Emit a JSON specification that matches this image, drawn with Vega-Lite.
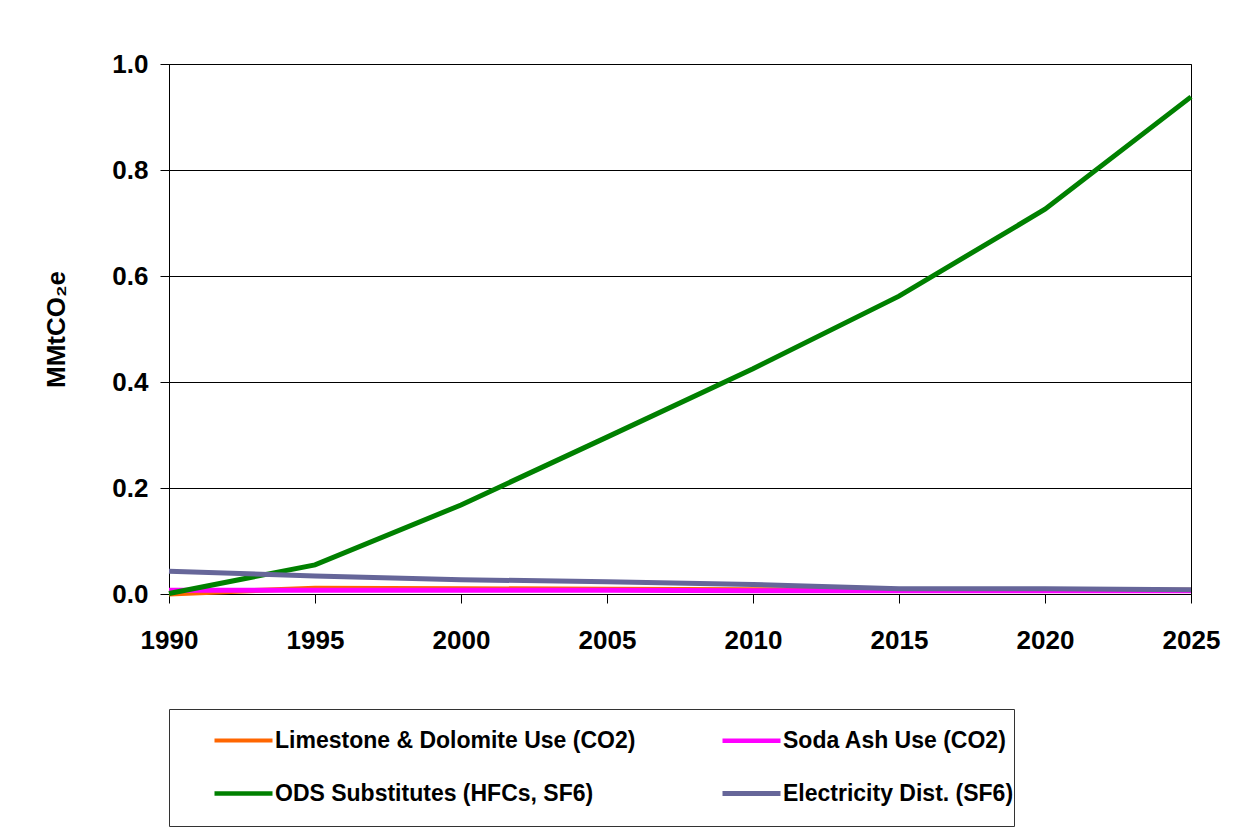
{
  "$schema": "https://vega.github.io/schema/vega-lite/v6.json",
  "width": 1022,
  "height": 530,
  "autosize": {"type": "none"},
  "padding": {"left": 169, "top": 64, "right": 57, "bottom": 242},
  "background": "white",
  "data": {
    "values": [
      {"year": 1990, "series": "Limestone & Dolomite Use (CO2)", "value": 0.0},
      {"year": 1995, "series": "Limestone & Dolomite Use (CO2)", "value": 0.011},
      {"year": 2000, "series": "Limestone & Dolomite Use (CO2)", "value": 0.010},
      {"year": 2005, "series": "Limestone & Dolomite Use (CO2)", "value": 0.009},
      {"year": 2010, "series": "Limestone & Dolomite Use (CO2)", "value": 0.008},
      {"year": 2015, "series": "Limestone & Dolomite Use (CO2)", "value": 0.007},
      {"year": 2020, "series": "Limestone & Dolomite Use (CO2)", "value": 0.007},
      {"year": 2025, "series": "Limestone & Dolomite Use (CO2)", "value": 0.007},
      {"year": 1990, "series": "Soda Ash Use (CO2)", "value": 0.007},
      {"year": 1995, "series": "Soda Ash Use (CO2)", "value": 0.007},
      {"year": 2000, "series": "Soda Ash Use (CO2)", "value": 0.007},
      {"year": 2005, "series": "Soda Ash Use (CO2)", "value": 0.007},
      {"year": 2010, "series": "Soda Ash Use (CO2)", "value": 0.006},
      {"year": 2015, "series": "Soda Ash Use (CO2)", "value": 0.006},
      {"year": 2020, "series": "Soda Ash Use (CO2)", "value": 0.006},
      {"year": 2025, "series": "Soda Ash Use (CO2)", "value": 0.006},
      {"year": 1990, "series": "ODS Substitutes (HFCs, SF6)", "value": 0.001},
      {"year": 1995, "series": "ODS Substitutes (HFCs, SF6)", "value": 0.055},
      {"year": 2000, "series": "ODS Substitutes (HFCs, SF6)", "value": 0.168},
      {"year": 2005, "series": "ODS Substitutes (HFCs, SF6)", "value": 0.296},
      {"year": 2010, "series": "ODS Substitutes (HFCs, SF6)", "value": 0.425},
      {"year": 2015, "series": "ODS Substitutes (HFCs, SF6)", "value": 0.562},
      {"year": 2020, "series": "ODS Substitutes (HFCs, SF6)", "value": 0.726},
      {"year": 2025, "series": "ODS Substitutes (HFCs, SF6)", "value": 0.938},
      {"year": 1990, "series": "Electricity Dist. (SF6)", "value": 0.043},
      {"year": 1995, "series": "Electricity Dist. (SF6)", "value": 0.034},
      {"year": 2000, "series": "Electricity Dist. (SF6)", "value": 0.027},
      {"year": 2005, "series": "Electricity Dist. (SF6)", "value": 0.023},
      {"year": 2010, "series": "Electricity Dist. (SF6)", "value": 0.018},
      {"year": 2015, "series": "Electricity Dist. (SF6)", "value": 0.010},
      {"year": 2020, "series": "Electricity Dist. (SF6)", "value": 0.010},
      {"year": 2025, "series": "Electricity Dist. (SF6)", "value": 0.008}
    ]
  },
  "mark": {"type": "line", "strokeWidth": 5, "strokeCap": "butt"},
  "encoding": {
    "x": {
      "field": "year",
      "type": "quantitative",
      "scale": {"domain": [1990, 2025], "nice": false, "zero": false},
      "axis": {
        "values": [1990, 1995, 2000, 2005, 2010, 2015, 2020, 2025],
        "format": "d",
        "title": null,
        "grid": false,
        "labelFontSize": 26,
        "labelPadding": 24,
        "tickSize": 9,
        "labelFlush": false
      }
    },
    "y": {
      "field": "value",
      "type": "quantitative",
      "scale": {"domain": [0, 1], "nice": false},
      "axis": {
        "values": [0, 0.2, 0.4, 0.6, 0.8, 1.0],
        "format": ".1f",
        "title": "MMtCO₂e",
        "titleFontSize": 26,
        "titlePadding": 42,
        "labelFontSize": 26,
        "labelPadding": 12,
        "tickSize": 9,
        "grid": true,
        "gridColor": "black",
        "gridOpacity": 1,
        "gridWidth": 1
      }
    },
    "color": {
      "field": "series",
      "type": "nominal",
      "sort": ["Limestone & Dolomite Use (CO2)", "Soda Ash Use (CO2)", "ODS Substitutes (HFCs, SF6)", "Electricity Dist. (SF6)"],
      "scale": {
        "domain": ["Limestone & Dolomite Use (CO2)", "Soda Ash Use (CO2)", "ODS Substitutes (HFCs, SF6)", "Electricity Dist. (SF6)"],
        "range": ["#FF6600", "#FF00FF", "#008000", "#666699"]
      },
      "legend": {
        "orient": "none",
        "legendX": 0,
        "legendY": 645,
        "columns": 2,
        "direction": "horizontal",
        "title": "\u2800\u00a0\u00a0\u00a0\u00a0\u00a0\u00a0\u00a0\u00a0\u00a0\u00a0\u00a0\u00a0\u00a0\u00a0\u00a0\u00a0\u00a0\u00a0\u00a0\u00a0\u00a0\u00a0\u00a0\u00a0\u00a0\u00a0\u00a0\u00a0\u00a0\u00a0\u00a0\u00a0\u00a0\u00a0\u00a0\u00a0\u00a0\u00a0\u00a0\u00a0\u00a0\u00a0\u00a0\u00a0\u00a0\u00a0\u00a0\u00a0\u00a0\u00a0\u00a0\u00a0\u00a0\u00a0\u00a0\u00a0\u00a0\u00a0\u00a0\u00a0\u00a0\u00a0\u00a0\u00a0\u00a0\u00a0\u00a0\u00a0\u00a0\u00a0\u00a0\u00a0\u00a0\u00a0\u00a0\u00a0\u00a0\u00a0\u00a0\u00a0\u00a0\u00a0\u00a0\u00a0\u00a0\u00a0\u00a0\u00a0\u00a0\u00a0\u00a0\u00a0\u00a0\u00a0\u00a0\u00a0\u00a0\u00a0\u00a0\u00a0\u00a0\u00a0\u00a0\u00a0\u00a0\u00a0\u00a0\u00a0\u00a0\u00a0\u00a0\u00a0\u00a0\u00a0\u00a0\u00a0\u00a0\u00a0\u00a0\u00a0\u00a0\u00a0\u00a0\u00a0\u00a0\u00a0\u00a0\u00a0\u00a0\u00a0\u00a0\u00a0\u00a0\u00a0\u00a0\u00a0\u00a0\u00a0\u00a0\u00a0\u00a0\u00a0\u00a0\u00a0\u00a0\u00a0\u00a0\u00a0\u00a0\u00a0\u00a0\u00a0\u00a0\u00a0\u00a0\u00a0\u00a0\u00a0\u00a0\u00a0\u00a0\u00a0\u00a0\u00a0\u00a0\u00a0\u00a0\u00a0\u00a0\u00a0\u00a0\u00a0\u00a0\u00a0\u00a0\u00a0\u00a0\u2800",
        "titleOrient": "bottom",
        "titleFontSize": 16,
        "titlePadding": 4,
        "titleLimit": 1200,
        "padding": 0,
        "strokeColor": "#333333",
        "fillColor": "white",
        "symbolType": "stroke",
        "symbolSize": 3364,
        "symbolStrokeWidth": 5,
        "symbolOffset": 43,
        "labelFontSize": 23,
        "labelFontWeight": "bold",
        "labelFont": "Liberation Sans",
        "labelColor": "black",
        "labelOffset": 0,
        "labelLimit": 500,
        "columnPadding": 41,
        "rowPadding": 9
      }
    },
    "strokeWidth": {
      "field": "series",
      "type": "nominal",
      "scale": {
        "domain": ["Limestone & Dolomite Use (CO2)", "Soda Ash Use (CO2)", "ODS Substitutes (HFCs, SF6)", "Electricity Dist. (SF6)"],
        "range": [4, 5, 6, 4]
      },
      "legend": null
    }
  },
  "config": {
    "font": "Liberation Sans",
    "view": {"stroke": "black", "strokeWidth": 1},
    "axis": {
      "domainColor": "black",
      "tickColor": "black",
      "labelColor": "black",
      "titleColor": "black",
      "labelFont": "Liberation Sans",
      "titleFont": "Liberation Sans",
      "labelFontWeight": "bold",
      "titleFontWeight": "bold"
    }
  }
}
